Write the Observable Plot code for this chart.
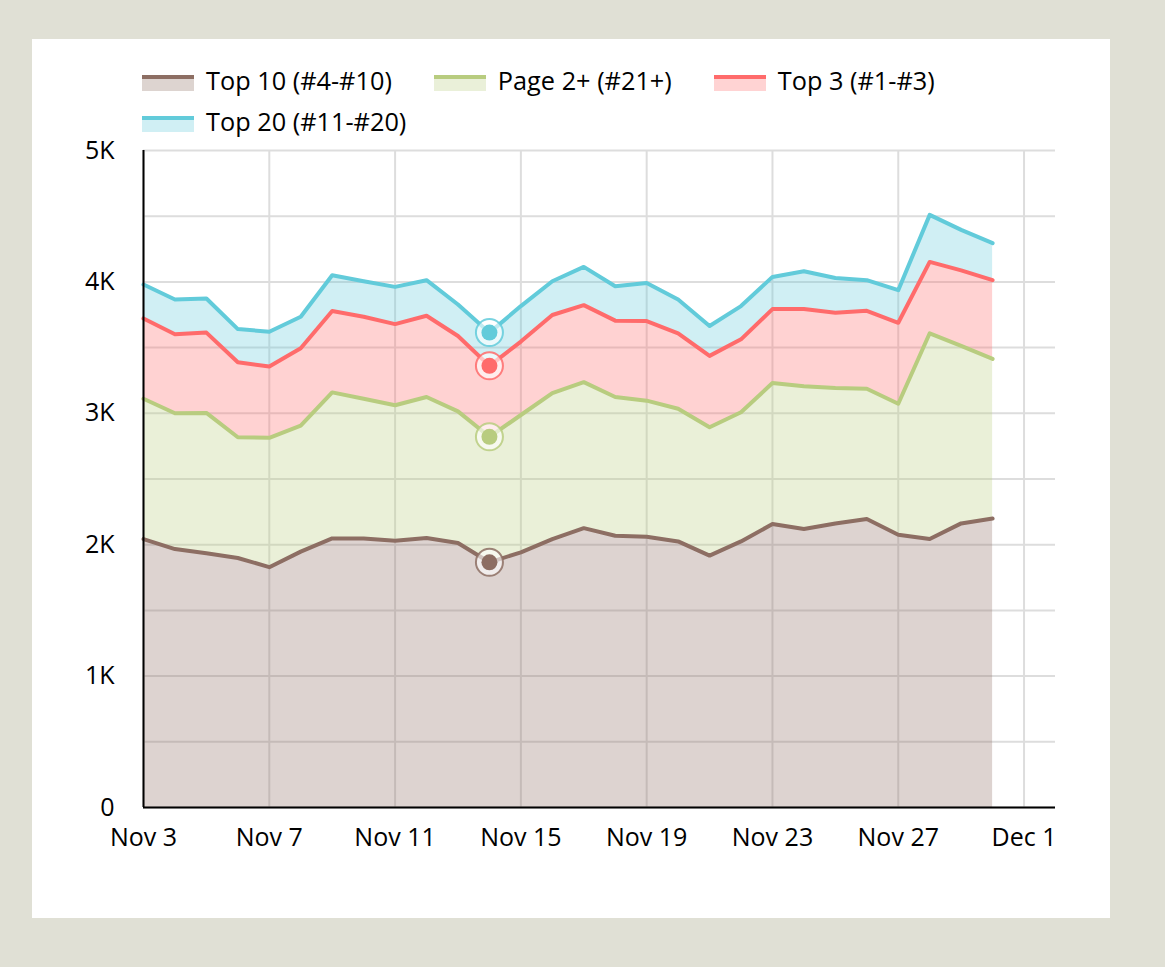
<!DOCTYPE html>
<html><head><meta charset="utf-8">
<script src="https://cdn.jsdelivr.net/npm/d3@7"></script>
<script src="https://cdn.jsdelivr.net/npm/@observablehq/plot@0.6"></script>
<style>
html,body{margin:0;padding:0;background:#e0e0d5;width:1165px;height:967px;overflow:hidden;font-family:"Open Sans",sans-serif;}
#panel{position:absolute;left:32px;top:39px;width:1078px;height:879px;background:#fff;}
#legend{position:absolute;left:110px;top:20px;width:950px;display:flex;flex-wrap:wrap;column-gap:42px;}
.item{display:flex;align-items:center;height:41px;font-size:25.3px;color:#000;white-space:nowrap;}
.sw{width:52px;height:16px;margin-right:12px;box-sizing:border-box;margin-top:6px;}
#chart{position:absolute;left:0;top:101px;}
</style></head>
<body>
<div id="panel"><div id="legend"></div><div id="chart"></div></div>
<script>
const dates = ["2023-11-03","2023-11-04","2023-11-05","2023-11-06","2023-11-07","2023-11-08","2023-11-09",
  "2023-11-10","2023-11-11","2023-11-12","2023-11-13","2023-11-14","2023-11-15","2023-11-16","2023-11-17",
  "2023-11-18","2023-11-19","2023-11-20","2023-11-21","2023-11-22","2023-11-23","2023-11-24","2023-11-25",
  "2023-11-26","2023-11-27","2023-11-28","2023-11-29","2023-11-30"];
const series = ["Top 10 (#4-#10)","Page 2+ (#21+)","Top 3 (#1-#3)","Top 20 (#11-#20)"];
const colors = ["#8d6e63","#b8cc7f","#ff6b6b","#62cbda"];
const top10 = [2043,1967,1935,1899,1829,1947,2048,2048,2030,2051,2013,1866,1942,2043,2126,2068,2061,2025,1917,2025,2157,2119,2162,2195,2076,2043,2162,2199];
const page2 = [1068,1033,1068,919,984,960,1111,1063,1031,1073,1002,955,1045,1111,1111,1056,1035,1010,977,983,1073,1086,1030,992,997,1566,1351,1215];
const top3  = [611,601,611,571,543,588,619,624,618,618,573,540,559,594,586,581,606,574,543,555,563,588,573,593,616,543,575,599];
const top20 = [258,265,260,252,265,240,272,270,283,271,240,253,270,257,291,262,290,257,227,253,245,288,265,233,248,358,308,282];
const xTickDates = ["2023-11-03","2023-11-07","2023-11-11","2023-11-15","2023-11-19","2023-11-23","2023-11-27","2023-12-01"];
const xDomain = ["2023-11-03","2023-12-02"];
const yTicks = [0,1000,2000,3000,4000,5000];
const yGrid = [0,500,1000,1500,2000,2500,3000,3500,4000,4500,5000];
const highlightDate = "2023-11-14";

const parse = s => new Date(s + "T00:00:00Z");
const valuesBySeries = [top10, page2, top3, top20];
const rows = [];
dates.forEach((d, i) => valuesBySeries.forEach((arr, k) => rows.push({date: parse(d), series: series[k], value: arr[i]})));
const hl = rows.filter(r => +r.date === +parse(highlightDate));
const xTicks = xTickDates.map(parse);

// legend
const legend = document.getElementById("legend");
series.forEach((s, i) => {
  const it = document.createElement("div"); it.className = "item";
  const sw = document.createElement("div"); sw.className = "sw";
  const light = d3.interpolateRgb("#fff", colors[i])(0.3);
  sw.style.background = `linear-gradient(${colors[i]} 0 4px, ${light} 4px 100%)`;
  it.appendChild(sw);
  const t = document.createElement("span"); t.textContent = s; it.appendChild(t);
  legend.appendChild(it);
});

const opts = {x: "date", y: "value", z: "series", order: series};
const chart = Plot.plot({
  width: 1078, height: 778, marginTop: 10, marginBottom: 111, marginLeft: 111, marginRight: 55,
  style: {fontFamily: "'Open Sans', sans-serif", fontSize: "25px", color: "#000", background: "transparent", overflow: "visible"},
  x: {type: "utc", domain: xDomain.map(parse), label: null},
  y: {domain: [0, 5000], label: null},
  color: {domain: series, range: colors},
  marks: [
    Plot.gridY(yGrid, {stroke: "#dddddd", strokeOpacity: 1, strokeWidth: 2}),
    Plot.gridX(xTicks, {stroke: "#dddddd", strokeOpacity: 1, strokeWidth: 2}),
    Plot.areaY(rows, {...opts, fill: "series", fillOpacity: 0.3}),
    Plot.lineY(rows, Plot.stackY2({...opts, stroke: "series", strokeWidth: 4})),
    Plot.ruleX([parse(xDomain[0])], {stroke: "#000", strokeWidth: 2}),
    Plot.ruleY([0], {stroke: "#000", strokeWidth: 2}),
    Plot.axisY(yTicks, {tickSize: 0, tickPadding: 29, fontSize: 25, label: null, tickFormat: d => d === 0 ? "0" : d / 1000 + "K"}),
    Plot.axisX(xTicks, {tickSize: 0, tickPadding: 21, fontSize: 25, label: null, tickFormat: d3.utcFormat("%b %-d")}),
    Plot.dot(hl, Plot.stackY2({...opts, r: 13.5, fill: "white", fillOpacity: 0.6, stroke: "series", strokeWidth: 2, strokeOpacity: 0.85})),
    Plot.dot(hl, Plot.stackY2({...opts, r: 8, fill: "series"}))
  ]
});
document.getElementById("chart").appendChild(chart);
</script>
</body></html>
